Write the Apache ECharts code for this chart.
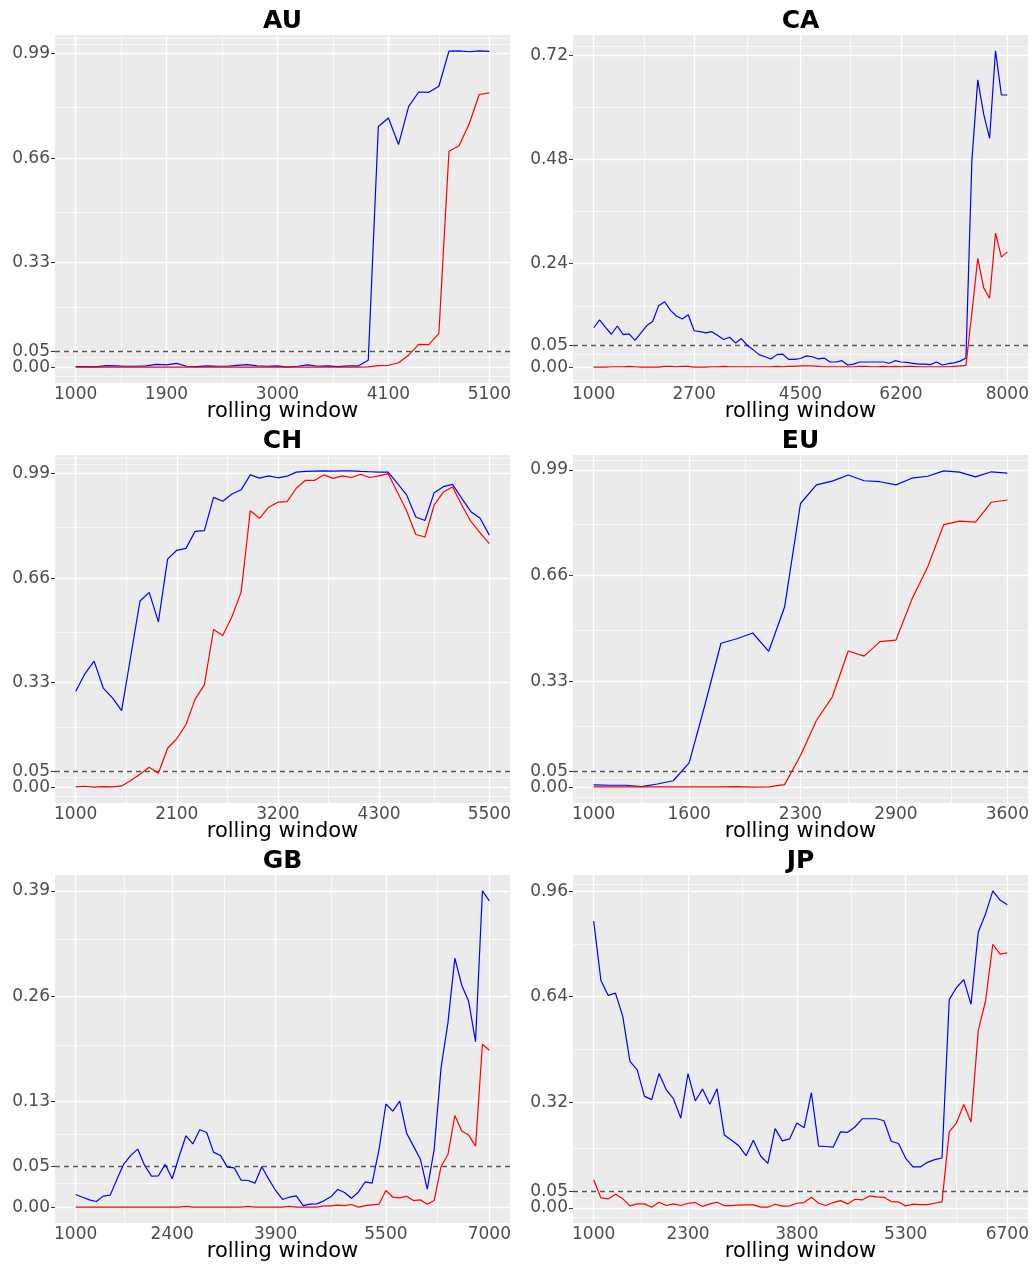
<!DOCTYPE html>
<html>
<head>
<meta charset="utf-8">
<script src="https://cdn.jsdelivr.net/npm/echarts@6/dist/echarts.min.js"></script>
<style>
html,body{margin:0;padding:0;background:#ffffff;}
#chart{width:1034px;height:1266px;}
</style>
</head>
<body>
<div id="chart"></div>
<script>
// ---------------- data (rolling window starts at 1000, step 100) ----------------
const windowStart = 1000;
const windowStep = 100;

const AU_blue = [0.002,0.002,0.001,0.005,0.004,0.003,0.003,0.004,0.009,0.007,
                 0.012,0.003,0.002,0.004,0.003,0.003,0.006,0.008,0.004,0.003,
                 0.004,0.000,0.003,0.007,0.003,0.004,0.002,0.004,0.004,0.022,
                 0.760,0.787,0.703,0.823,0.869,0.868,0.887,0.998,0.999,0.996,0.999,0.997];
const AU_red  = [0,0,0,0,0,0,0,0,0,0,
                 0,0,0,0,0,0,0,0,0,0,
                 0,0,0,0,0,0,0,0,0,0.001,
                 0.005,0.006,0.014,0.038,0.072,0.071,0.107,0.682,0.699,0.768,0.861,0.866];
const AU_xTicks = [1000,1900,3000,4100,5100];
const AU_yTicks = [0,0.05,0.33,0.66,0.99];

const CA_blue = [0.091,0.109,0.092,0.076,0.095,0.075,0.077,0.062,0.079,0.096,
                 0.106,0.142,0.151,0.131,0.118,0.111,0.121,0.084,0.082,0.079,
                 0.082,0.073,0.064,0.069,0.056,0.066,0.050,0.040,0.029,0.024,
                 0.019,0.029,0.030,0.018,0.018,0.020,0.026,0.024,0.019,0.021,
                 0.012,0.012,0.015,0.005,0.007,0.012,0.012,0.012,0.012,0.012,
                 0.009,0.015,0.012,0.011,0.009,0.007,0.007,0.006,0.012,0.005,
                 0.008,0.010,0.014,0.021,0.476,0.663,0.584,0.528,0.730,0.628,0.628];
const CA_red  = [0,0,0,0.001,0.001,0.001,0.002,0.001,0,0,
                 0,0,0.002,0.002,0.001,0.002,0.002,0,0,0,
                 0.001,0.001,0.002,0.001,0.001,0.001,0.001,0.001,0.001,0.001,
                 0.001,0.002,0.001,0.002,0.002,0.003,0.003,0.003,0.002,0.001,
                 0.001,0.001,0.001,0.001,0.001,0.002,0.002,0.001,0.001,0.002,
                 0.001,0.002,0.001,0.002,0.002,0.001,0.001,0.001,0.001,0.001,
                 0.001,0.002,0.003,0.004,0.125,0.251,0.183,0.159,0.309,0.254,0.266];
const CA_xTicks = [1000,2700,4500,6200,8000];
const CA_yTicks = [0,0.05,0.24,0.48,0.72];

const CH_blue = [0.302,0.358,0.398,0.313,0.282,0.242,0.415,0.588,0.615,0.522,
                 0.720,0.748,0.754,0.808,0.810,0.915,0.903,0.926,0.939,0.986,
                 0.976,0.983,0.977,0.982,0.995,0.997,0.998,0.999,0.998,0.999,
                 0.999,0.997,0.996,0.995,0.995,0.959,0.923,0.853,0.842,0.930,
                 0.949,0.956,0.912,0.870,0.849,0.796];
const CH_red  = [0.001,0.003,0.000,0.002,0.001,0.004,0.021,0.041,0.063,0.044,
                 0.123,0.153,0.198,0.278,0.323,0.498,0.479,0.538,0.616,0.873,
                 0.849,0.884,0.900,0.902,0.944,0.969,0.969,0.986,0.975,0.983,
                 0.978,0.988,0.978,0.983,0.990,0.931,0.873,0.798,0.790,0.891,
                 0.932,0.948,0.891,0.839,0.803,0.769];
const CH_xTicks = [1000,2100,3200,4300,5500];
const CH_yTicks = [0,0.05,0.33,0.66,0.99];

const EU_blue = [0.007,0.006,0.006,0.002,0.010,0.020,0.076,0.258,0.449,0.463,
                 0.481,0.424,0.562,0.885,0.943,0.955,0.974,0.956,0.953,0.943,
                 0.964,0.970,0.987,0.983,0.968,0.984,0.980];
const EU_red  = [0.001,0.001,0.001,0.001,0.001,0.001,0.001,0.001,0.001,0.002,
                 0.000,0.001,0.008,0.099,0.208,0.282,0.425,0.409,0.454,0.459,
                 0.586,0.688,0.819,0.830,0.827,0.889,0.896];
const EU_xTicks = [1000,1600,2300,2900,3600];
const EU_yTicks = [0,0.05,0.33,0.66,0.99];

const GB_blue = [0.0156,0.0123,0.0090,0.0070,0.0136,0.0148,0.0346,0.0535,0.0638,0.0716,
                 0.0514,0.0383,0.0387,0.0527,0.0350,0.0625,0.0880,0.0780,0.0954,0.0921,
                 0.0679,0.0638,0.0494,0.0485,0.0333,0.0329,0.0296,0.0498,0.0346,0.0206,
                 0.0095,0.0123,0.0140,0.0020,0.0037,0.0041,0.0078,0.0128,0.0218,0.0181,
                 0.0111,0.0185,0.0313,0.0296,0.0710,0.1272,0.1185,0.1308,0.0913,0.0753,
                 0.0592,0.0222,0.0712,0.1720,0.2275,0.3070,0.2736,0.2540,0.2040,0.3900,0.3777];
const GB_red  = [0,0,0,0,0,0,0,0,0,0,
                 0,0,0,0,0,0,0.001,0,0,0,
                 0,0,0,0,0,0.001,0,0,0,0,
                 0,0.001,0,0,0,0,0.0016,0.0016,0.0025,0.0020,
                 0.0033,0,0.0020,0.0029,0.0037,0.0206,0.0123,0.0115,0.0136,0.0082,
                 0.0090,0.0037,0.0082,0.0502,0.0650,0.1130,0.0938,0.0889,0.0753,0.2008,0.1934];
const GB_xTicks = [1000,2400,3900,5500,7000];
const GB_yTicks = [0,0.05,0.13,0.26,0.39];

const JP_blue = [0.869,0.689,0.644,0.651,0.581,0.444,0.418,0.338,0.328,0.407,
                 0.358,0.330,0.272,0.407,0.324,0.360,0.314,0.361,0.221,0.205,
                 0.188,0.158,0.205,0.157,0.135,0.240,0.203,0.209,0.257,0.243,
                 0.349,0.187,0.186,0.184,0.230,0.229,0.245,0.270,0.270,0.270,
                 0.264,0.202,0.195,0.150,0.124,0.124,0.138,0.146,0.151,0.631,
                 0.668,0.692,0.617,0.836,0.891,0.961,0.933,0.919];
const JP_red  = [0.085,0.030,0.027,0.041,0.028,0.006,0.012,0.012,0.002,0.017,
                 0.007,0.012,0.007,0.014,0.016,0.004,0.012,0.017,0.007,0.007,
                 0.008,0.009,0.009,0.002,0.002,0.011,0.005,0.006,0.014,0.016,
                 0.032,0.014,0.007,0.016,0.022,0.012,0.026,0.024,0.036,0.033,
                 0.032,0.019,0.018,0.006,0.011,0.010,0.010,0.014,0.018,0.231,
                 0.257,0.313,0.260,0.538,0.627,0.799,0.769,0.773];
const JP_xTicks = [1000,2300,3800,5300,6700];
const JP_yTicks = [0,0.05,0.32,0.64,0.96];

const titles = ['AU','CA','CH','EU','GB','JP'];
const threshold = 0.05;
const xAxisTitle = 'rolling window';

// ---------------- layout / style ----------------
const FONT = '"DejaVu Sans", "Liberation Sans", Arial, sans-serif';
const colLeft = [55, 573];
const rowTop = [35, 455, 875];
const PW = 455, PH = 348;

const panels = [
  {blue: AU_blue, red: AU_red, xt: AU_xTicks, yt: AU_yTicks},
  {blue: CA_blue, red: CA_red, xt: CA_xTicks, yt: CA_yTicks},
  {blue: CH_blue, red: CH_red, xt: CH_xTicks, yt: CH_yTicks},
  {blue: EU_blue, red: EU_red, xt: EU_xTicks, yt: EU_yTicks},
  {blue: GB_blue, red: GB_red, xt: GB_xTicks, yt: GB_yTicks},
  {blue: JP_blue, red: JP_red, xt: JP_xTicks, yt: JP_yTicks}
];

function minorBreaks(majors, lo, hi) {
  const b = majors.slice();
  const bd = b[1] - b[0];
  if (lo < b[0]) b.unshift(b[0] - bd);
  if (hi > b[b.length - 1]) b.push(b[b.length - 1] + bd);
  const out = [];
  for (let i = 0; i < b.length - 1; i++) { out.push(b[i], (b[i] + b[i + 1]) / 2); }
  out.push(b[b.length - 1]);
  return out.filter(v => v >= lo && v <= hi && !majors.some(m => Math.abs(m - v) < 1e-9));
}

const grid = [], xAxis = [], yAxis = [], series = [], graphic = [];

function yAxisDef(k, ymin, ymax, values) {
  return {
    gridIndex: k, type: 'value', min: ymin, max: ymax, position: 'left', offset: 0,
    axisLine: {show: false},
    axisTick: {show: true, customValues: values, length: 4, lineStyle: {color: '#333333', width: 1}},
    axisLabel: {customValues: values, color: '#4D4D4D', fontSize: 17, fontFamily: FONT, margin: 5,
                formatter: v => v.toFixed(2)},
    splitLine: {show: false}
  };
}

panels.forEach((p, k) => {
  const c = k % 2, r = Math.floor(k / 2);
  grid.push({left: colLeft[c], top: rowTop[r], width: PW, height: PH, outerBoundsMode: 'none',
             show: true, backgroundColor: '#EBEBEB', borderWidth: 0, containLabel: false});
  const xs = p.blue.map((_, i) => windowStart + windowStep * i);
  const x0 = xs[0], x1 = xs[xs.length - 1], xr = x1 - x0;
  const xmin = x0 - 0.05 * xr, xmax = x1 + 0.05 * xr;
  const all = p.blue.concat(p.red, [threshold]);
  const y0 = Math.min(...all), y1 = Math.max(...all), yr = y1 - y0;
  const ymin = y0 - 0.05 * yr, ymax = y1 + 0.05 * yr;

  xAxis.push({
    gridIndex: k, type: 'value', min: xmin, max: xmax,
    axisLine: {show: false},
    axisTick: {show: true, customValues: p.xt, length: 4, lineStyle: {color: '#333333', width: 1}},
    axisLabel: {customValues: p.xt, color: '#4D4D4D', fontSize: 17, fontFamily: FONT, margin: 3,
                formatter: v => String(Math.round(v))},
    splitLine: {show: false},
    name: xAxisTitle, nameLocation: 'middle', nameGap: 18, nameMoveOverlap: false,
    nameTextStyle: {color: '#000000', fontSize: 21, fontFamily: FONT}
  });
  // main y axis (all breaks except the threshold) + a companion axis carrying the threshold break,
  // so that the closely spaced 0.00 / 0.05 labels are both kept
  const yMain = p.yt.filter(v => Math.abs(v - threshold) > 1e-9);
  const yThr = p.yt.filter(v => Math.abs(v - threshold) <= 1e-9);
  const yi = yAxis.length;
  yAxis.push(yAxisDef(k, ymin, ymax, yMain));
  yAxis.push(yAxisDef(k, ymin, ymax, yThr));

  const gl = [];
  minorBreaks(p.yt, ymin, ymax).forEach(v => gl.push({yAxis: v, lineStyle: {color: '#FFFFFF', width: 0.7, type: 'solid'}}));
  minorBreaks(p.xt, xmin, xmax).forEach(v => gl.push({xAxis: v, lineStyle: {color: '#FFFFFF', width: 0.7, type: 'solid'}}));
  p.yt.forEach(v => gl.push({yAxis: v, lineStyle: {color: '#FFFFFF', width: 1.3, type: 'solid'}}));
  p.xt.forEach(v => gl.push({xAxis: v, lineStyle: {color: '#FFFFFF', width: 1.3, type: 'solid'}}));

  series.push({
    type: 'line', xAxisIndex: k, yAxisIndex: yi, data: [], z: 1, silent: true,
    markLine: {z: 1, silent: true, animation: false, symbol: ['none', 'none'], label: {show: false},
               emphasis: {disabled: true}, data: gl}
  });
  series.push({
    type: 'line', xAxisIndex: k, yAxisIndex: yi, data: [], z: 2, silent: true,
    markLine: {z: 2, silent: true, animation: false, symbol: ['none', 'none'], label: {show: false},
               emphasis: {disabled: true},
               data: [{yAxis: threshold, lineStyle: {color: '#555555', width: 1.3, type: [5, 4]}}]}
  });
  series.push({
    type: 'line', xAxisIndex: k, yAxisIndex: yi, z: 3, silent: true,
    data: xs.map((x, i) => [x, p.blue[i]]), showSymbol: false, symbol: 'none',
    lineStyle: {color: '#0000FF', width: 1.2}, animation: false
  });
  series.push({
    type: 'line', xAxisIndex: k, yAxisIndex: yi, z: 4, silent: true,
    data: xs.map((x, i) => [x, p.red[i]]), showSymbol: false, symbol: 'none',
    lineStyle: {color: '#FF0000', width: 1.2}, animation: false
  });

  graphic.push({type: 'text', x: colLeft[c] + PW / 2, y: rowTop[r] - 14,
    style: {text: titles[k], align: 'center', verticalAlign: 'middle',
            font: 'bold 25px ' + FONT, fill: '#000000'}});
});

const chart = echarts.init(document.getElementById('chart'), null, {renderer: 'canvas'});
chart.setOption({
  animation: false,
  backgroundColor: '#FFFFFF',
  grid, xAxis, yAxis, series, graphic
});
</script>
</body>
</html>
